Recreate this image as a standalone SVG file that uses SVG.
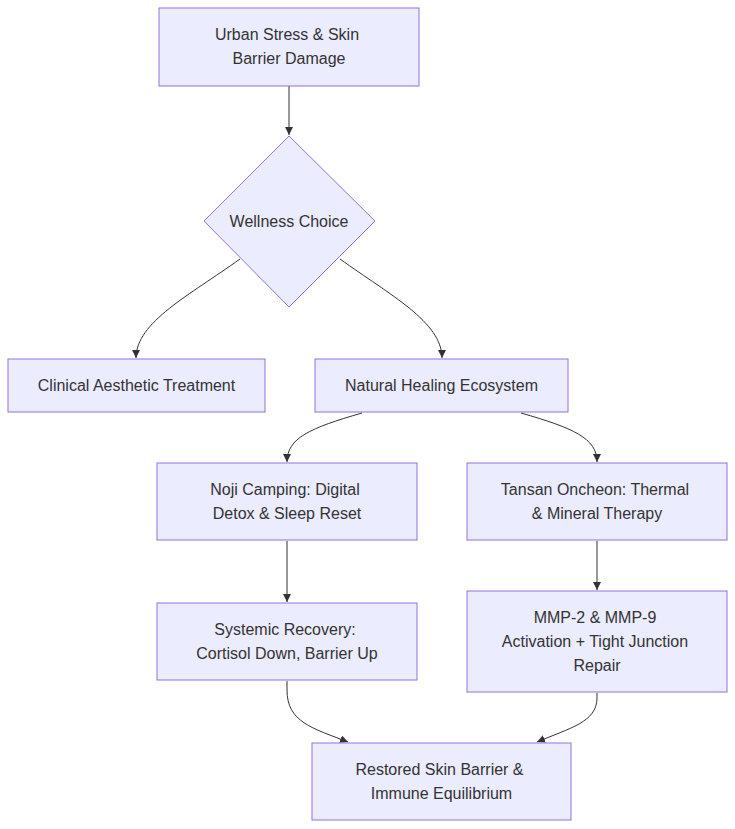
<svg xmlns="http://www.w3.org/2000/svg" width="735" height="829" viewBox="0 0 735 829">
<defs>
<style>
.node rect,.node polygon{fill:#ECECFF;stroke:#9370DB;stroke-width:1px}
.node text{font-family:"Liberation Sans",Arial,sans-serif;font-size:16px;fill:#333;text-anchor:middle}
.edges path{fill:none;stroke:#333;stroke-width:1px;marker-end:url(#arrow)}
</style>
<marker id="arrow" viewBox="0 0 10 10" refX="10" refY="5" markerWidth="8" markerHeight="8" markerUnits="userSpaceOnUse" orient="auto">
<path d="M0,0 L10,5 L0,10 z" fill="#333"/>
</marker>
</defs>
<rect width="735" height="829" fill="#fff"/>
<g class="edges">
<path d="M289,86 L289,135"/>
<path d="M240,259 C190,295 136,322 136,358"/>
<path d="M340,259 C390,295 442,322 442,358"/>
<path d="M362,413 C310,428 287,438 287,462"/>
<path d="M521,413 C573,428 597,438 597,462"/>
<path d="M287,541 L287,602"/>
<path d="M597,541 L597,590"/>
<path d="M287,681 L287,690 C287,722 312,728 348,742"/>
<path d="M597,693 L597,698 C597,722 570,728 537,742"/>
</g>
<g class="node" id="urban">
<rect x="159" y="8" width="260" height="78"/>
<text x="287" y="40">Urban Stress &amp; Skin</text>
<text x="289" y="64">Barrier Damage</text>
</g>
<g class="node" id="choice">
<polygon points="289,136 375,221 289,307 204,221"/>
<text x="289" y="227">Wellness Choice</text>
</g>
<g class="node" id="clinical">
<rect x="8" y="359" width="257" height="53"/>
<text x="136.5" y="391">Clinical Aesthetic Treatment</text>
</g>
<g class="node" id="natural">
<rect x="315" y="359" width="253" height="53"/>
<text x="441.5" y="391">Natural Healing Ecosystem</text>
</g>
<g class="node" id="noji">
<rect x="157" y="463" width="260" height="77"/>
<text x="285" y="495">Noji Camping: Digital</text>
<text x="287" y="519">Detox &amp; Sleep Reset</text>
</g>
<g class="node" id="tansan">
<rect x="467" y="463" width="260" height="77"/>
<text x="595" y="495">Tansan Oncheon: Thermal</text>
<text x="597" y="519">&amp; Mineral Therapy</text>
</g>
<g class="node" id="systemic">
<rect x="157" y="603" width="260" height="77"/>
<text x="285" y="635">Systemic Recovery:</text>
<text x="287" y="659">Cortisol Down, Barrier Up</text>
</g>
<g class="node" id="mmp">
<rect x="467" y="591" width="260" height="101"/>
<text x="595" y="623">MMP-2 &amp; MMP-9</text>
<text x="595" y="647">Activation + Tight Junction</text>
<text x="597" y="671">Repair</text>
</g>
<g class="node" id="restored">
<rect x="312" y="743" width="259" height="77"/>
<text x="439.5" y="775">Restored Skin Barrier &amp;</text>
<text x="441.5" y="799">Immune Equilibrium</text>
</g>
</svg>
